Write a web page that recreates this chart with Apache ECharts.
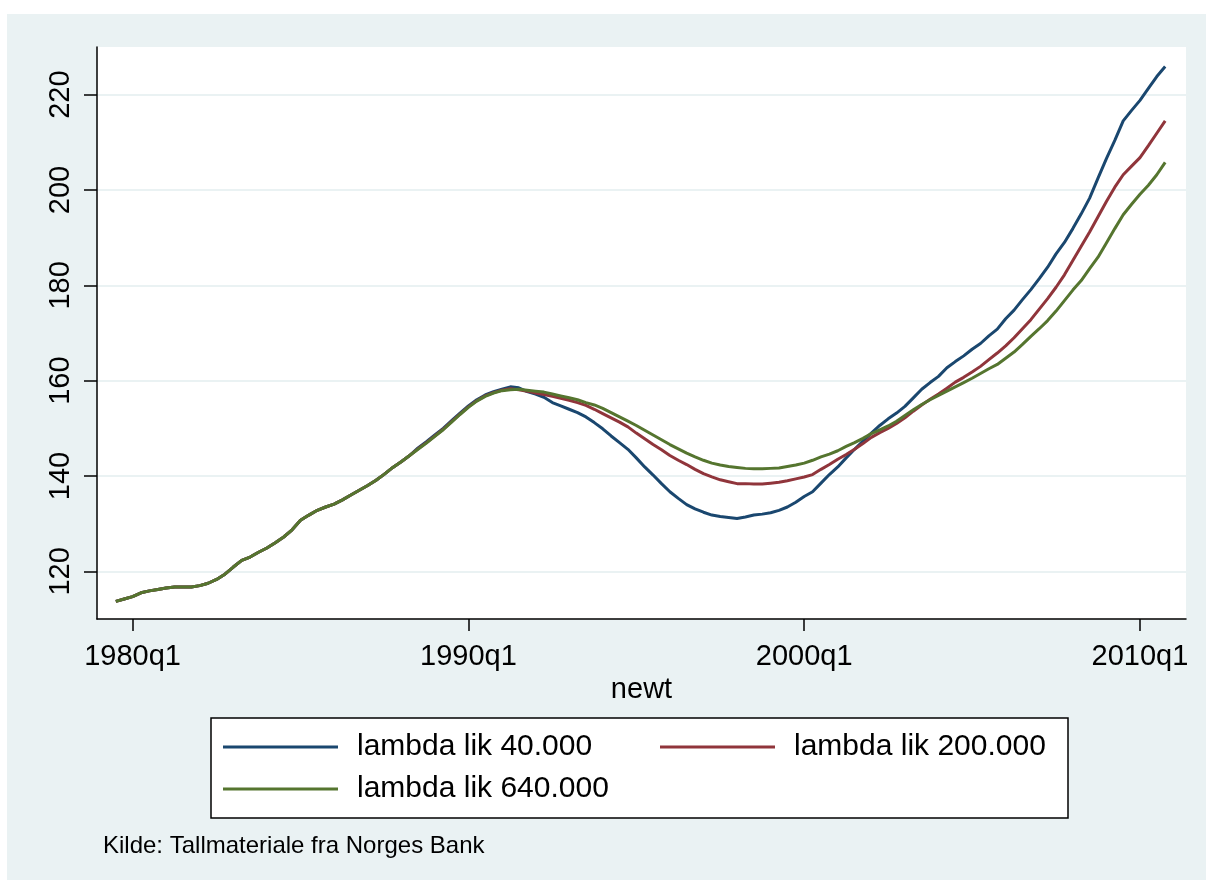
<!DOCTYPE html>
<html><head><meta charset="utf-8">
<script src="https://cdn.jsdelivr.net/npm/echarts@6/dist/echarts.min.js"></script>
<style>html,body{margin:0;padding:0;background:#fff}#c{width:1213px;height:886px}</style>
</head><body><div id="c"></div>
<script>
// quarterly series, first observation 1979q3
const startYear = 1979, startQuarter = 3;
const seriesNames = ['lambda lik 40.000', 'lambda lik 200.000', 'lambda lik 640.000'];

const lambda40 = [113.7,114.2,114.7,115.5,115.9,116.2,116.5,116.7,116.7,116.7,117.0,117.5,118.3,119.4,120.9,122.3,123.0,124.0,124.9,126.0,
  127.2,128.7,130.7,131.8,132.8,133.5,134.1,135.0,136.0,137.0,138.0,139.1,140.4,141.8,143.0,144.3,
  145.9,147.2,148.6,150.0,151.6,153.2,154.7,156.0,157.0,157.7,158.2,
  158.7,158.5,157.7,157.2,156.5,155.4,154.7,154.0,153.3,152.4,151.2,149.9,148.4,147.0,145.6,143.8,141.9,140.2,138.4,136.7,
  135.3,134.0,133.1,132.4,131.8,131.5,131.3,131.1,131.4,131.8,132.0,132.3,132.8,133.5,134.5,135.7,136.7,138.5,140.3,141.9,
  143.8,145.6,147.3,149.0,150.6,152.0,153.2,154.6,156.4,158.2,159.6,160.9,162.7,164.0,165.2,166.6,167.8,169.4,170.8,173.0,
  174.8,177.0,179.1,181.4,183.8,186.6,189.0,191.9,195.0,198.3,202.5,206.6,210.4,214.5,216.7,218.8,221.3,223.8,225.9];

const lambda200 = [113.7,114.2,114.7,115.5,115.9,116.2,116.5,116.7,116.7,116.7,117.0,117.5,118.3,119.4,120.9,122.3,123.0,124.0,124.9,126.0,
  127.2,128.7,130.7,131.8,132.8,133.5,134.1,135.0,136.0,137.0,138.0,139.1,140.4,141.8,143.0,144.3,
  145.7,147.0,148.4,149.8,151.4,153.0,154.5,155.8,156.8,157.5,158.0,
  158.3,158.1,157.8,157.4,157.1,156.7,156.3,155.9,155.4,154.8,154.0,153.1,152.2,151.3,150.3,149.0,147.8,146.6,145.5,144.3,
  143.3,142.4,141.4,140.5,139.8,139.2,138.8,138.4,138.4,138.3,138.3,138.5,138.7,139.0,139.4,139.8,140.3,141.4,142.4,143.5,
  144.5,145.6,146.8,148.1,149.1,150.0,151.0,152.2,153.6,154.9,156.1,157.2,158.4,159.7,160.7,161.8,163.0,164.4,165.8,167.3,
  169.0,170.9,172.8,175.0,177.2,179.6,182.2,185.2,188.2,191.2,194.4,197.6,200.6,203.2,205.0,206.8,209.3,211.9,214.5];

const lambda640 = [113.7,114.2,114.7,115.5,115.9,116.2,116.5,116.7,116.7,116.7,117.0,117.5,118.3,119.4,120.9,122.3,123.0,124.0,124.9,126.0,
  127.2,128.7,130.7,131.8,132.8,133.5,134.1,135.0,136.0,137.0,138.0,139.1,140.4,141.8,143.0,144.3,
  145.6,146.9,148.3,149.7,151.3,152.9,154.4,155.7,156.7,157.4,157.9,
  158.1,158.2,158.0,157.8,157.6,157.2,156.8,156.4,156.0,155.4,154.9,154.2,153.3,152.4,151.5,150.6,149.6,148.6,147.6,146.6,
  145.7,144.8,144.0,143.3,142.7,142.3,142.0,141.8,141.6,141.5,141.5,141.6,141.7,142.0,142.3,142.7,143.3,144.0,144.6,145.3,
  146.2,147.0,147.9,148.9,149.7,150.5,151.5,152.7,153.9,155.0,156.0,156.9,157.8,158.7,159.6,160.5,161.5,162.5,163.4,164.7,
  166.0,167.6,169.3,170.9,172.6,174.6,176.8,179.0,181.0,183.5,185.9,188.9,191.9,194.8,197.0,199.1,201.0,203.2,205.8];

const yTicks = [120, 140, 160, 180, 200, 220];
const xTickValues = [1980, 1990, 2000, 2010];
const xTickLabels = ['1980q1', '1990q1', '2000q1', '2010q1'];
const xAxisTitle = 'newt';
const caption = 'Kilde: Tallmateriale fra Norges Bank';

const colors = ['#1a476f', '#90353b', '#55752f'];
const FONT = '"Liberation Sans", Arial, Helvetica, sans-serif';
const PANEL = '#eaf2f3';

const t0 = startYear + (startQuarter - 1) / 4;
const toPairs = arr => arr.map((v, i) => [t0 + i / 4, v]);
const allSeries = [lambda40, lambda200, lambda640];

const chart = echarts.init(document.getElementById('c'), null, {renderer: 'canvas', width: 1213, height: 886});

const legendCommon = {
  orient: 'horizontal', padding: 0, itemWidth: 115, itemHeight: 3, icon: 'rect',
  textStyle: {fontSize: 30, color: '#000', fontFamily: FONT, padding: [0, 0, 0, 14]},
  selectedMode: false
};

chart.setOption({
  animation: false,
  backgroundColor: '#ffffff',
  graphic: [
    {type: 'rect', z: -100, silent: true, shape: {x: 7, y: 14, width: 1199, height: 866}, style: {fill: PANEL}},
    {type: 'rect', z: -50, silent: true, shape: {x: 211, y: 718, width: 857, height: 100}, style: {fill: '#fff', stroke: '#000', lineWidth: 1.5}},
    {type: 'text', silent: true, x: 103, y: 834, style: {text: caption, fill: '#000', font: '24px ' + FONT}}
  ],
  grid: {left: 97, top: 47, right: 27, bottom: 267, show: true, backgroundColor: '#fff', borderWidth: 0, containLabel: false},
  xAxis: {
    type: 'value', min: 1978.94, max: 2011.37,
    name: xAxisTitle, nameLocation: 'middle', nameGap: 55,
    nameTextStyle: {fontSize: 29, color: '#000', fontFamily: FONT},
    axisLine: {show: true, onZero: false, lineStyle: {color: '#000', width: 1.5}},
    axisTick: {show: true, length: 12, customValues: xTickValues, lineStyle: {color: '#000', width: 1.5}},
    axisLabel: {customValues: xTickValues, formatter: v => xTickLabels[xTickValues.indexOf(v)],
      fontSize: 29, color: '#000', fontFamily: FONT, margin: 23},
    splitLine: {show: false}
  },
  yAxis: {
    type: 'value', min: 110, max: 230,
    axisLine: {show: true, onZero: false, lineStyle: {color: '#000', width: 1.5}},
    axisTick: {show: true, length: 13, customValues: yTicks, lineStyle: {color: '#000', width: 1.5}},
    axisLabel: {customValues: yTicks, rotate: 90, fontSize: 29, color: '#000', fontFamily: FONT, margin: 22},
    splitLine: {show: true, lineStyle: {color: PANEL, width: 2}}
  },
  legend: [
    Object.assign({}, legendCommon, {data: [seriesNames[0]], left: 223, top: 732}),
    Object.assign({}, legendCommon, {data: [seriesNames[1]], left: 660, top: 732}),
    Object.assign({}, legendCommon, {data: [seriesNames[2]], left: 223, top: 774})
  ],
  series: allSeries.map((arr, k) => ({
    name: seriesNames[k], type: 'line', data: toPairs(arr),
    symbol: 'none', showSymbol: false, smooth: false,
    lineStyle: {color: colors[k], width: 3}, itemStyle: {color: colors[k]}
  }))
});
</script>
</body></html>
